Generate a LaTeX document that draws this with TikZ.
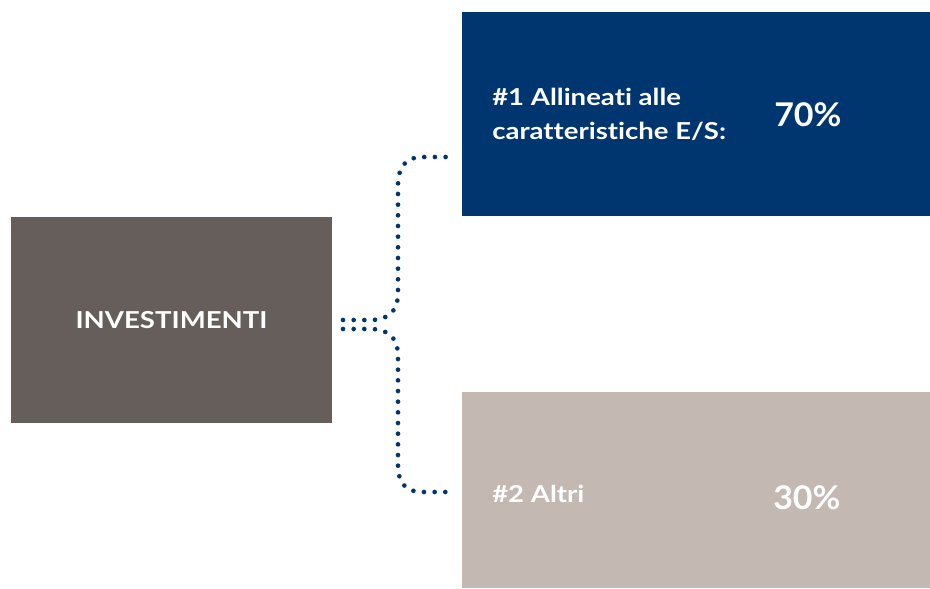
\documentclass[tikz,border=0pt]{standalone}
\usepackage{fontspec}
\setmainfont{Lato}[Ligatures=NoCommon]
\newfontfamily\lblfont{Lato}[FakeStretch=1.18,Ligatures=NoCommon]
\newfontfamily\pctfont{Lato}[FakeStretch=1.04]
\definecolor{navy}{HTML}{00366F}
\definecolor{invgray}{HTML}{665E5B}
\definecolor{lightgray}{HTML}{C3B8B2}
\begin{document}
\begin{tikzpicture}[x=0.75pt,y=-0.75pt,
  box/.style={draw=none, inner sep=0pt, text=white},
  lbl/.style={anchor=base west, inner sep=0pt, text=white, font=\lblfont\fontsize{17.5}{25.5}\selectfont\bfseries, align=left},
  pct/.style={anchor=base west, inner sep=0pt, text=white, font=\pctfont\fontsize{24.5}{26}\selectfont\bfseries},
  dots/.style={draw=navy, line width=3.5pt, line cap=round, dash pattern=on 0pt off 8pt}]
\useasboundingbox (0,0) rectangle (930,588);
\node[box, fill=invgray, minimum width=240.75pt, minimum height=154.5pt, font=\lblfont\fontsize{17.5}{20}\selectfont\bfseries] (inv) at (171.5,320) {INVESTIMENTI};
\node[box, fill=navy, minimum width=351pt, minimum height=153pt] (e1) at (696,114) {};
\node[box, fill=lightgray, minimum width=351pt, minimum height=147pt] (e2) at (696,490) {};
\node[lbl] (t1) at (492,140) {\#1 Allineati alle\\caratteristiche E/S:};
\node[pct] (p1) at (774,126.5) {70\%};
\node[lbl] (t2) at (492,502.5) {\#2 Altri};
\node[pct] (p2) at (773,509) {30\%};
\coordinate (a0) at (343,320);
\coordinate (a1) at (449,157);
\coordinate (b0) at (343,329);
\coordinate (b1) at (449,492);
\draw[dots] (a0) -- (372,320) .. controls (392,319) and (398,308) .. (398,293) -- (398,185) .. controls (398,168) and (405,157) .. (422,157) -- (a1);
\draw[dots] (b0) -- (372,329) .. controls (392,330) and (398,341) .. (398,356) -- (398,465) .. controls (398,482) and (405,492) .. (422,492) -- (b1);
\end{tikzpicture}
\end{document}
